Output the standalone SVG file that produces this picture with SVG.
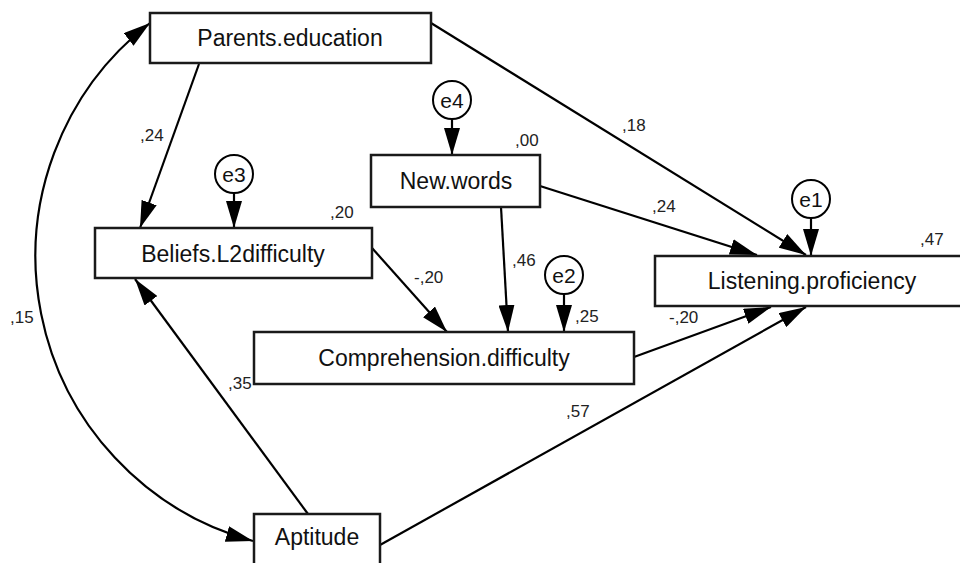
<svg xmlns="http://www.w3.org/2000/svg" width="960" height="563" viewBox="0 0 960 563">
<defs>
<marker id="ah" markerUnits="userSpaceOnUse" markerWidth="27" markerHeight="16" refX="27" refY="8" orient="auto-start-reverse" viewBox="0 0 27 16">
<path d="M0,0 L27,8 L0,16 z" fill="#000"/>
</marker>
<style>
.box{fill:#fff;stroke:#1a1a1a;stroke-width:2.5}
.err{fill:#fff;stroke:#000;stroke-width:2}
.lbl{font-family:"Liberation Sans",Arial,sans-serif;font-size:23px;fill:#111;text-anchor:middle}
.elbl{font-family:"Liberation Sans",Arial,sans-serif;font-size:21px;fill:#111;text-anchor:middle}
.coef{font-family:"Liberation Sans",Arial,sans-serif;font-size:17px;fill:#222}
.edge{fill:none;stroke:#000;stroke-width:2.2;marker-end:url(#ah)}
</style>
</defs>
<rect width="960" height="563" fill="#fff"/>
<g id="connectors">
<path class="edge" d="M150,23 A295,295 0 0,0 253,541" marker-start="url(#ah)"/>
<line class="edge" x1="199" y1="64" x2="140" y2="228"/>
<line class="edge" x1="431" y1="23" x2="806" y2="255"/>
<line class="edge" x1="540" y1="186" x2="757" y2="255"/>
<line class="edge" x1="501" y1="207" x2="508" y2="332"/>
<line class="edge" x1="372" y1="248" x2="447" y2="332"/>
<line class="edge" x1="634" y1="357" x2="771" y2="307"/>
<line class="edge" x1="380" y1="545" x2="806" y2="307"/>
<line class="edge" x1="308" y1="514" x2="135" y2="279"/>
<line class="edge" x1="234" y1="193" x2="234" y2="228"/>
<line class="edge" x1="452" y1="119" x2="452" y2="155"/>
<line class="edge" x1="811" y1="218" x2="811" y2="256"/>
<line class="edge" x1="564" y1="294" x2="564" y2="332"/>
</g>
<g id="coefficients">
<text class="coef" x="140" y="141">,24</text>
<text class="coef" x="330" y="218">,20</text>
<text class="coef" x="515" y="146">,00</text>
<text class="coef" x="622" y="131">,18</text>
<text class="coef" x="652" y="212">,24</text>
<text class="coef" x="920" y="245">,47</text>
<text class="coef" x="512" y="266">,46</text>
<text class="coef" x="575" y="322">,25</text>
<text class="coef" x="414" y="283">-,20</text>
<text class="coef" x="669" y="323">-,20</text>
<text class="coef" x="566" y="417">,57</text>
<text class="coef" x="228" y="389">,35</text>
<text class="coef" x="10" y="323">,15</text>
</g>
<g id="parents">
<rect class="box" x="150" y="13" width="281" height="50"/>
<text class="lbl" x="290" y="46">Parents.education</text>
</g>
<g id="beliefs">
<rect class="box" x="95" y="228" width="277" height="50"/>
<text class="lbl" x="233" y="262">Beliefs.L2difficulty</text>
</g>
<g id="newwords">
<rect class="box" x="371" y="155" width="169" height="52"/>
<text class="lbl" x="456" y="189">New.words</text>
</g>
<g id="listening">
<rect class="box" x="655" y="256" width="314" height="50"/>
<text class="lbl" x="812" y="289">Listening.proficiency</text>
</g>
<g id="comprehension">
<rect class="box" x="254" y="332" width="380" height="52"/>
<text class="lbl" x="444" y="366">Comprehension.difficulty</text>
</g>
<g id="aptitude">
<rect class="box" x="254" y="514" width="126" height="54"/>
<text class="lbl" x="317" y="545">Aptitude</text>
</g>
<g id="e1">
<circle class="err" cx="811" cy="199" r="19"/>
<text class="elbl" x="811" y="206.5">e1</text>
</g>
<g id="e2">
<circle class="err" cx="564" cy="275" r="19"/>
<text class="elbl" x="564" y="282.5">e2</text>
</g>
<g id="e3">
<circle class="err" cx="234" cy="174" r="19"/>
<text class="elbl" x="234" y="181.5">e3</text>
</g>
<g id="e4">
<circle class="err" cx="452" cy="100" r="19"/>
<text class="elbl" x="452" y="107.5">e4</text>
</g>
</svg>
